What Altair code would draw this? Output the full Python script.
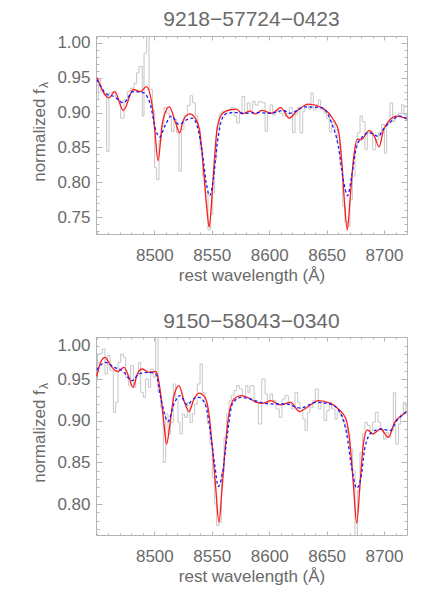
import altair as alt
import pandas as pd

# ---------------- panel 1 : 9218-57724-0423 ----------------
p1_gray_wl = [8449.2, 8451.2, 8453.3, 8455.6, 8458.5, 8460.5, 8463.4, 8466.3, 8468.5, 8470.7,
              8473.6, 8476.5, 8479.4, 8482.3, 8484.6, 8486.6, 8489.5, 8491.0, 8493.3, 8495.4,
              8498.3, 8500.3, 8502.0, 8504.1, 8506.1, 8508.4, 8510.7, 8513.1, 8514.8, 8517.1,
              8519.4, 8521.5, 8523.5, 8525.8, 8528.7, 8531.1, 8533.4, 8535.7, 8538.0, 8539.8,
              8542.1, 8544.4, 8546.7, 8549.0, 8550.8, 8552.5, 8554.3, 8556.6, 8558.9, 8561.2,
              8563.6, 8566.5, 8569.4, 8571.7, 8574.0, 8576.3, 8578.7, 8581.0, 8583.3, 8585.6,
              8587.7, 8590.6, 8593.5, 8596.4, 8598.4, 8600.7, 8603.0, 8605.9, 8608.8, 8611.7,
              8614.6, 8617.5, 8620.4, 8622.5, 8624.8, 8626.8, 8629.2, 8631.2, 8634.1, 8636.4,
              8638.4, 8640.8, 8642.8, 8644.8, 8647.7, 8650.1, 8652.4, 8654.4, 8657.3, 8659.3,
              8661.7, 8664.0, 8666.0, 8668.1, 8670.4, 8672.4, 8674.7, 8676.8, 8679.1, 8681.1,
              8683.4, 8685.5, 8687.8, 8690.1, 8692.7, 8695.0, 8697.9, 8700.3, 8702.3, 8705.2,
              8707.5, 8709.6, 8712.5, 8715.4, 8717.4, 8719.7, 8720.0]
p1_gray_fx = [0.918, 0.947, 0.930, 0.926, 0.844, 0.928, 0.930, 0.921, 0.918, 0.892,
              0.918, 0.930, 0.935, 0.942, 0.957, 0.966, 0.895, 0.985, 1.030, 0.933,
              0.904, 0.821, 0.804, 0.861, 0.880, 0.907, 0.899, 0.895, 0.873, 0.890,
              0.871, 0.816, 0.876, 0.895, 0.910, 0.924, 0.914, 0.895, 0.878, 0.847,
              0.809, 0.785, 0.732, 0.754, 0.785, 0.833, 0.878, 0.899, 0.902, 0.899,
              0.904, 0.907, 0.895, 0.885, 0.899, 0.923, 0.899, 0.914, 0.902, 0.916,
              0.911, 0.916, 0.914, 0.873, 0.899, 0.911, 0.897, 0.902, 0.899, 0.895,
              0.899, 0.907, 0.871, 0.897, 0.907, 0.871, 0.902, 0.911, 0.905, 0.928,
              0.904, 0.911, 0.918, 0.904, 0.899, 0.892, 0.872, 0.887, 0.876, 0.856,
              0.825, 0.766, 0.744, 0.737, 0.775, 0.809, 0.854, 0.871, 0.895, 0.887,
              0.847, 0.871, 0.873, 0.847, 0.861, 0.871, 0.883, 0.842, 0.885, 0.914,
              0.887, 0.895, 0.899, 0.911, 0.897, 0.892, 0.892]

p1_red_wl = [8450.1, 8460.5, 8465.5, 8473.0, 8481.7, 8488.1, 8493.0, 8498.2, 8500.6, 8503.2,
             8507.0, 8513.0, 8518.6, 8522.0, 8525.2, 8530.8, 8536.0, 8539.7, 8542.6, 8545.5,
             8547.8, 8549.6, 8551.9, 8554.2, 8557.7, 8562.1, 8571.6, 8576.5, 8583.3, 8587.7,
             8593.5, 8602.2, 8610.0, 8617.5, 8624.0, 8634.1, 8645.7, 8655.8, 8660.2, 8663.1,
             8665.4, 8668.0, 8670.4, 8673.3, 8676.8, 8680.0, 8687.0, 8691.6, 8695.7, 8699.5,
             8703.3, 8711.1, 8719.8]
p1_red_fx = [0.950, 0.921, 0.930, 0.903, 0.933, 0.930, 0.937, 0.909, 0.871, 0.831,
             0.885, 0.908, 0.885, 0.871, 0.889, 0.898, 0.891, 0.871, 0.823, 0.766,
             0.736, 0.766, 0.823, 0.871, 0.895, 0.902, 0.905, 0.898, 0.902, 0.898,
             0.903, 0.899, 0.907, 0.892, 0.902, 0.912, 0.907, 0.890, 0.875, 0.832,
             0.775, 0.732, 0.775, 0.832, 0.862, 0.861, 0.874, 0.866, 0.851, 0.875,
             0.886, 0.895, 0.891]

p1_blue_wl = [8450.0, 8459.0, 8464.9, 8473.0, 8481.7, 8491.0, 8496.9, 8501.2, 8504.7, 8509.0,
              8514.8, 8521.5, 8527.3, 8533.1, 8537.4, 8541.8, 8545.2, 8548.2, 8551.3, 8554.8,
              8559.2, 8563.5, 8572.2, 8579.5, 8589.1, 8600.7, 8612.3, 8618.1, 8631.2, 8645.7,
              8654.4, 8660.2, 8664.5, 8668.3, 8671.8, 8675.5, 8680.5, 8686.8, 8695.0, 8699.3,
              8705.2, 8713.9, 8719.7]
p1_blue_fx = [0.947, 0.926, 0.923, 0.914, 0.930, 0.928, 0.909, 0.875, 0.865, 0.880,
              0.895, 0.883, 0.889, 0.892, 0.880, 0.842, 0.799, 0.781, 0.804, 0.856,
              0.892, 0.899, 0.900, 0.899, 0.900, 0.899, 0.903, 0.899, 0.908, 0.907,
              0.885, 0.852, 0.804, 0.781, 0.809, 0.847, 0.864, 0.871, 0.866, 0.876,
              0.886, 0.895, 0.891]

# ---------------- panel 2 : 9150-58043-0340 ----------------
p2_gray_wl = [8449.2, 8450.5, 8454.7, 8457.0, 8459.1, 8461.4, 8464.3, 8466.3, 8468.4, 8470.7,
              8473.0, 8475.0, 8477.4, 8479.4, 8481.7, 8483.7, 8486.1, 8488.1, 8490.4, 8492.4,
              8494.8, 8496.8, 8499.1, 8501.2, 8503.2, 8505.5, 8507.8, 8509.9, 8511.9, 8514.2,
              8516.5, 8518.6, 8520.6, 8522.3, 8524.4, 8526.4, 8528.7, 8531.0, 8533.1, 8535.1,
              8537.4, 8539.8, 8541.8, 8544.1, 8546.1, 8548.5, 8550.5, 8552.5, 8554.3, 8556.3,
              8558.3, 8560.7, 8563.0, 8565.0, 8567.0, 8569.4, 8571.7, 8574.0, 8576.6, 8579.5,
              8581.5, 8583.3, 8586.8, 8590.6, 8593.5, 8596.4, 8598.4, 8600.7, 8603.0, 8605.9,
              8608.8, 8611.2, 8613.8, 8616.7, 8619.6, 8622.5, 8624.8, 8626.8, 8629.2, 8631.2,
              8633.2, 8635.5, 8637.9, 8640.2, 8642.8, 8645.1, 8647.7, 8650.1, 8652.4, 8654.4,
              8657.3, 8659.3, 8661.7, 8664.0, 8666.0, 8668.1, 8670.4, 8672.7, 8674.7, 8676.8,
              8679.1, 8681.4, 8683.4, 8685.5, 8687.8, 8690.1, 8692.4, 8694.8, 8697.1, 8699.4,
              8701.7, 8703.7, 8705.8, 8708.1, 8710.1, 8712.5, 8714.5, 8716.8, 8719.1, 8720.0]
p2_gray_fx = [0.948, 0.980, 0.986, 0.956, 0.978, 0.960, 0.910, 0.922, 0.970, 0.980,
              0.976, 0.952, 0.942, 0.966, 0.940, 0.954, 0.970, 0.934, 0.928, 0.950,
              0.940, 0.962, 0.952, 1.020, 0.934, 0.916, 0.850, 0.908, 0.884, 0.898,
              0.944, 0.926, 0.898, 0.884, 0.908, 0.904, 0.922, 0.898, 0.908, 0.920,
              0.944, 0.968, 0.934, 0.920, 0.896, 0.872, 0.832, 0.800, 0.774, 0.778,
              0.838, 0.880, 0.908, 0.924, 0.930, 0.936, 0.942, 0.938, 0.930, 0.942,
              0.934, 0.942, 0.922, 0.896, 0.950, 0.932, 0.922, 0.932, 0.924, 0.914,
              0.904, 0.926, 0.930, 0.922, 0.914, 0.934, 0.922, 0.914, 0.902, 0.888,
              0.910, 0.916, 0.924, 0.938, 0.914, 0.922, 0.900, 0.912, 0.922, 0.914,
              0.902, 0.910, 0.906, 0.900, 0.892, 0.884, 0.866, 0.840, 0.755, 0.816,
              0.862, 0.884, 0.898, 0.894, 0.888, 0.898, 0.910, 0.898, 0.890, 0.878,
              0.886, 0.880, 0.888, 0.934, 0.872, 0.896, 0.908, 0.922, 0.908, 0.908]

p2_red_wl = [8449.8, 8453.3, 8457.0, 8462.0, 8467.8, 8473.6, 8477.9, 8481.4, 8485.2, 8489.6,
             8495.4, 8501.2, 8503.2, 8505.5, 8508.4, 8510.7, 8513.6, 8517.1, 8521.5, 8525.8,
             8530.2, 8534.5, 8538.9, 8544.1, 8547.6, 8550.5, 8553.4, 8556.3, 8558.6, 8561.5,
             8565.0, 8569.4, 8575.2, 8581.0, 8589.1, 8594.9, 8601.3, 8609.4, 8618.7, 8626.3,
             8634.1, 8642.8, 8653.0, 8660.2, 8666.9, 8670.4, 8673.3, 8676.2, 8679.1, 8682.0,
             8685.5, 8690.1, 8697.1, 8703.7, 8709.6, 8715.4, 8719.7]
p2_red_fx = [0.953, 0.970, 0.976, 0.966, 0.959, 0.964, 0.952, 0.940, 0.956, 0.962,
             0.958, 0.959, 0.952, 0.932, 0.896, 0.872, 0.896, 0.930, 0.942, 0.924,
             0.911, 0.926, 0.933, 0.928, 0.908, 0.868, 0.820, 0.778, 0.812, 0.864,
             0.908, 0.926, 0.930, 0.928, 0.922, 0.921, 0.924, 0.919, 0.922, 0.911,
             0.917, 0.924, 0.921, 0.914, 0.902, 0.872, 0.824, 0.777, 0.824, 0.872,
             0.889, 0.884, 0.890, 0.880, 0.899, 0.906, 0.911]

p2_blue_wl = [8449.8, 8457.6, 8464.9, 8472.1, 8480.8, 8486.6, 8495.4, 8501.2, 8505.5, 8511.9,
              8517.1, 8522.3, 8528.7, 8533.9, 8538.9, 8544.7, 8549.0, 8552.5, 8555.7, 8559.2,
              8563.6, 8567.9, 8575.2, 8583.9, 8592.0, 8603.6, 8615.2, 8626.8, 8641.3, 8653.0,
              8661.7, 8667.5, 8671.8, 8676.2, 8680.0, 8683.4, 8689.2, 8698.0, 8705.2, 8711.0,
              8719.7]
p2_blue_fx = [0.961, 0.970, 0.964, 0.960, 0.948, 0.956, 0.958, 0.956, 0.928, 0.899,
              0.920, 0.930, 0.919, 0.926, 0.928, 0.918, 0.884, 0.848, 0.821, 0.836,
              0.884, 0.920, 0.928, 0.926, 0.922, 0.920, 0.920, 0.915, 0.922, 0.920,
              0.910, 0.884, 0.844, 0.819, 0.832, 0.868, 0.886, 0.890, 0.888, 0.900,
              0.911]

titles = ["9218\u221257724\u22120423", "9150\u221258043\u22120340"]
x_domain = [8449.2, 8720.0]
x_major = [8500, 8550, 8600, 8650, 8700]
x_minor = list(range(8450, 8721, 10))
y_domains = [[0.7261, 1.0096], [0.7628, 1.0004]]
y_major = [0.75, 0.80, 0.85, 0.90, 0.95, 1.00]
y_minor = [round(0.72 + 0.01 * i, 2) for i in range(30)]
subscript = ["λ"]

FRAME = "#b4b4b4"
TEXT = "#6a6a6a"
FONT = "Liberation Sans"


def xaxis(orient, size, values, labels, title=None):
    return alt.Axis(orient=orient, values=values, tickSize=size, offset=-size,
                    labels=labels, title=title, domain=False, grid=False,
                    tickColor=FRAME, labelPadding=13, titlePadding=4, format="d")


def yaxis(orient, size, values, labels, title=None, flush=False):
    return alt.Axis(orient=orient, values=values, tickSize=size, offset=-size,
                    labels=labels, title=title, domain=False, grid=False,
                    tickColor=FRAME, labelPadding=6, titlePadding=8,
                    labelFlush=flush, format=".2f")


def panel(i, gwl, gfx, rwl, rfx, bwl, bfx):
    xs = alt.Scale(domain=x_domain, nice=False, zero=False)
    ys = alt.Scale(domain=y_domains[i], nice=False, zero=False)
    gdf = pd.DataFrame({"wl": gwl, "fx": gfx})
    rdf = pd.DataFrame({"wl": rwl, "fx": rfx})
    bdf = pd.DataFrame({"wl": bwl, "fx": bfx})
    gray = alt.Chart(gdf).mark_line(interpolate="step-after", color="#c6c6c6",
                                    strokeWidth=1, clip=True).encode(
        x=alt.X("wl:Q", scale=xs, axis=xaxis("bottom", 4, x_major, True, "rest wavelength (Å)")),
        y=alt.Y("fx:Q", scale=ys, axis=yaxis("left", 6, y_major, True, "normalized f", flush=(i == 1))),
    )
    red = alt.Chart(rdf).mark_line(interpolate="monotone", color="#ff1a1a",
                                   strokeWidth=1.3, clip=True).encode(
        x=alt.X("wl:Q", scale=xs, axis=xaxis("bottom", 2, x_minor, False)),
        y=alt.Y("fx:Q", scale=ys, axis=yaxis("left", 3, y_minor, False)),
    )
    blue = alt.Chart(bdf).mark_line(interpolate="monotone", color="#1a1aff",
                                    strokeWidth=1.3, strokeDash=[3, 2.5], clip=True).encode(
        x=alt.X("wl:Q", scale=xs, axis=xaxis("top", 4, x_major, False)),
        y=alt.Y("fx:Q", scale=ys, axis=yaxis("right", 6, y_major, False)),
    )
    ghost = alt.Chart(gdf).mark_line(strokeOpacity=0, clip=True).encode(
        x=alt.X("wl:Q", scale=xs, axis=xaxis("top", 2, x_minor, False)),
        y=alt.Y("fx:Q", scale=ys, axis=yaxis("right", 3, y_minor, False)),
    )
    sub = alt.Chart(pd.DataFrame({"t": subscript})).mark_text(
        angle=270, fontSize=12, font=FONT, color=TEXT, align="center", baseline="middle"
    ).encode(text="t:N", x=alt.value(-52), y=alt.value(49))
    return alt.layer(gray, red, blue, ghost, sub).resolve_axis(
        x="independent", y="independent"
    ).properties(width=311, height=198, title=alt.Title(titles[i], offset=4))


p1 = panel(0, p1_gray_wl, p1_gray_fx, p1_red_wl, p1_red_fx, p1_blue_wl, p1_blue_fx)
p2 = panel(1, p2_gray_wl, p2_gray_fx, p2_red_wl, p2_red_fx, p2_blue_wl, p2_blue_fx)

chart = alt.vconcat(p1, p2, spacing=26).properties(
    padding={"left": 22, "top": 0, "right": 5, "bottom": 5}
).configure_view(
    stroke=FRAME, strokeWidth=1
).configure_axis(
    labelFont=FONT, labelFontSize=17, labelColor=TEXT,
    titleFont=FONT, titleFontSize=17, titleFontWeight="normal", titleColor=TEXT,
).configure_title(
    font=FONT, fontSize=21, fontWeight="normal", color=TEXT, anchor="middle"
)

chart.save("out.html", embed_options={"renderer": "svg", "actions": False})
